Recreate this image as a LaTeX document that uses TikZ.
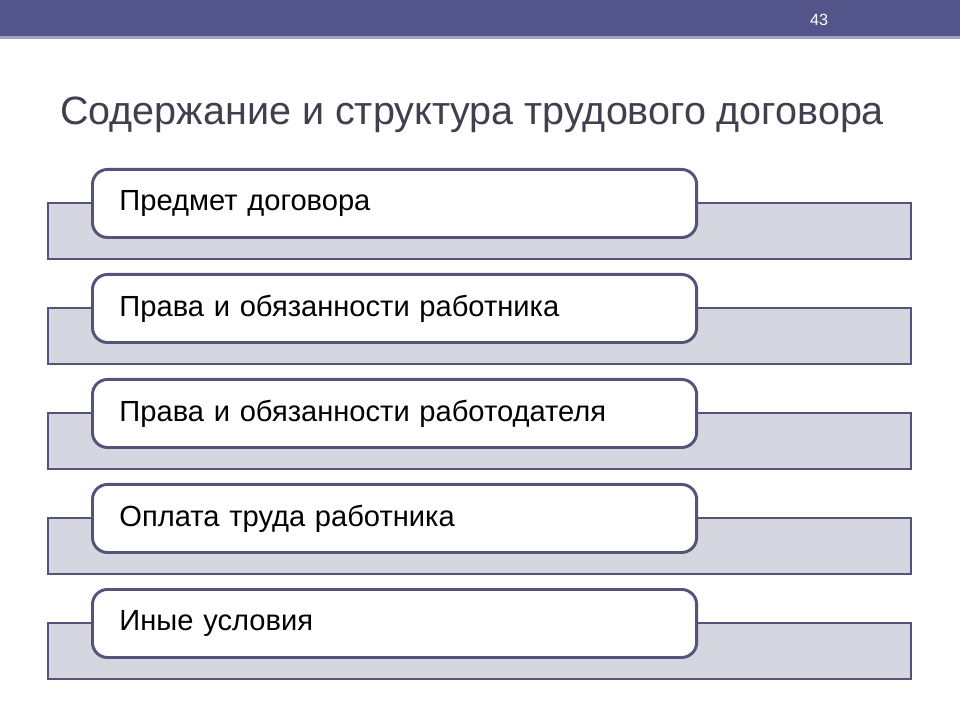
\documentclass[tikz,border=0pt]{standalone}
\usepackage{fontspec}
\setmainfont{Liberation Sans}
\usetikzlibrary{calc}

\definecolor{barblue}{HTML}{52548A}
\definecolor{barline}{HTML}{9EA2C2}
\definecolor{edgeblue}{HTML}{52547A}
\definecolor{rowgray}{HTML}{D6D6E0}
\definecolor{titlegray}{HTML}{3F3F4E}

\tikzset{
  rowbar/.style = {draw=edgeblue, fill=rowgray, line width=2.1pt},
  rowbox/.style = {draw=edgeblue, fill=white, line width=2.1pt,
    rounded corners=0.375cm, anchor=north west, align=left,
    text width=13.75cm, inner xsep=0.675cm, minimum height=1.7cm}
}

\begin{document}
\begin{tikzpicture}[x=0.025cm, y=-0.025cm, font=\fontsize{20.7}{24}\selectfont]
  \useasboundingbox (0,0) rectangle (960,720);

  % Barra in alto
  \fill[barblue] (0,0) rectangle (960,36);
  \fill[barline] (0,36) rectangle (960,39);
  \node[white, font=\fontsize{11.5}{13}\selectfont] (pagenum) at (819,20) {43};

  % Titolo
  \node[anchor=base west, titlegray, inner sep=0pt, font=\fontsize{28.1}{33}\selectfont]
    (title) at (60,125) {Содержание и структура трудового договора};

  % Righe
  \foreach \name/\txt [count=\i from 0] in {
      subject/Предмет договора,
      employee/Права и обязанности работника,
      employer/Права и обязанности работодателя,
      salary/Оплата труда работника,
      other/Иные условия}{
    \draw[rowbar] (48,{203+105*\i}) rectangle (911,{259+105*\i});
    \node[rowbox] (\name) at (91,{168+105*\i}) {\txt};
  }
\end{tikzpicture}
\end{document}
